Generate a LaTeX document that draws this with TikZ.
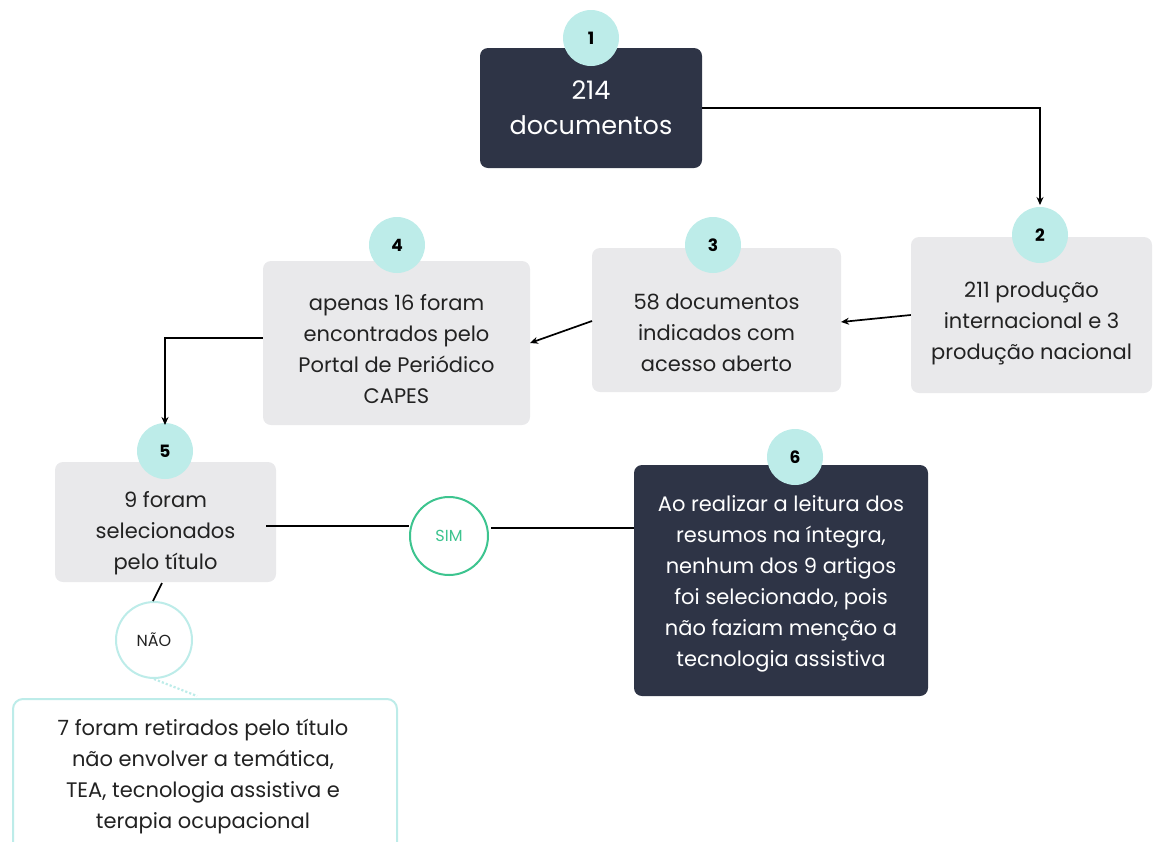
\documentclass[tikz,border=0pt]{standalone}
\usepackage{fontspec}
\setmainfont{Poppins}
\usetikzlibrary{arrows.meta}
\definecolor{navy}{HTML}{2E3446}
\definecolor{lightgray}{HTML}{E9E9EB}
\definecolor{mint}{HTML}{BDECE9}
\definecolor{simgreen}{HTML}{3DC48F}
\definecolor{ink}{HTML}{222222}
\tikzset{
  darkbox/.style={draw=none, fill=navy, rounded corners=8pt, inner sep=0pt},
  greybox/.style={draw=none, fill=lightgray, rounded corners=8pt, inner sep=0pt},
  numdot/.style={circle, fill=mint, minimum size=56pt, inner sep=0pt, font=\fontsize{17}{17}\selectfont\bfseries, text=black},
  flow/.style={draw=black, line width=1.7pt, -{Stealth[length=8pt,width=7pt]}},
  plain/.style={draw=black, line width=1.7pt},
  body/.style={font=\fontsize{21}{31}\selectfont, align=center, inner sep=0pt},
  darktext/.style={body, text=white},
  greytext/.style={body, text=ink}
}
\begin{document}
\begin{tikzpicture}[x=1pt,y=-1pt]
\useasboundingbox (0,0) rectangle (1158,841);
% step 1
\node[darkbox, minimum width=222pt, minimum height=120pt] (b1) at (591,108) {};
\node[darktext, font=\fontsize{25.5}{35}\selectfont] (t1) at (591,108) {214\\documentos};
\node[numdot] (n1) at (591,38) {1};
% step 2
\node[greybox, minimum width=241pt, minimum height=156pt] (b2) at (1031.5,315) {};
\node[greytext] (t2) at (1031.5,323) {211 produção\\internacional e 3\\produção nacional};
\node[numdot] (n2) at (1040,235) {2};
% step 3
\node[greybox, minimum width=249pt, minimum height=144pt] (b3) at (716.5,320) {};
\node[greytext] (t3) at (716.5,333) {58 documentos\\indicados com\\acesso aberto};
\node[numdot] (n3) at (713,245) {3};
% step 4
\node[greybox, minimum width=267pt, minimum height=164pt] (b4) at (396.5,343) {};
\node[greytext] (t4) at (396.5,349) {apenas 16 foram\\encontrados pelo\\Portal de Periódico\\CAPES};
\node[numdot] (n4) at (397,245) {4};
% step 5
\node[greybox, minimum width=221pt, minimum height=120pt] (b5) at (165.5,522) {};
\node[greytext] (t5) at (165.5,533) {9 foram\\selecionados\\pelo título};
\node[numdot] (n5) at (165,451) {5};
% step 6
\node[darkbox, minimum width=294pt, minimum height=231pt] (b6) at (781,580.5) {};
\node[darktext] (t6) at (781,584) {Ao realizar a leitura dos\\resumos na íntegra,\\nenhum dos 9 artigos\\foi selecionado, pois\\não faziam menção a\\tecnologia assistiva};
\node[numdot] (n6) at (795,457) {6};
% decisions
\node[circle, draw=simgreen, line width=2pt, fill=white, minimum size=78pt, inner sep=0pt, text=simgreen, font=\fontsize{16}{16}\selectfont] (sim) at (449,536) {SIM};
\node[circle, draw=mint, line width=2pt, fill=white, minimum size=76pt, inner sep=0pt, text=ink, font=\fontsize{16}{16}\selectfont] (nao) at (154,640) {NÃO};
% step 7 (runs past the lower edge)
\node[draw=mint, line width=2pt, fill=white, rounded corners=10pt, minimum width=384pt, minimum height=170pt, inner sep=0pt, anchor=north west] (b7) at (12,698) {};
\node[greytext] (t7) at (203,777) {7 foram retirados pelo título\\não envolver a temática,\\TEA, tecnologia assistiva e\\terapia ocupacional};
% connectors
\coordinate (c1) at (1040,108);
\draw[flow] (b1.east) -- (c1) -- (1040,205);
\draw[flow] (b2.west |- 0,315) -- (841,322);
\draw[flow] (592,321) -- (530,343);
\coordinate (c4) at (165,338);
\draw[flow] (b4.west |- c4) -- (c4) -- (165,425);
\draw[plain] (266,526) -- (sim.west |- 0,526);
\draw[plain] (491,528) -- (b6.west |- 0,528);
\draw[plain] (162,583) -- (153,601);
\draw[mint, line width=2.2pt, dotted] (nao.south) -- (197,696);
\end{tikzpicture}
\end{document}
